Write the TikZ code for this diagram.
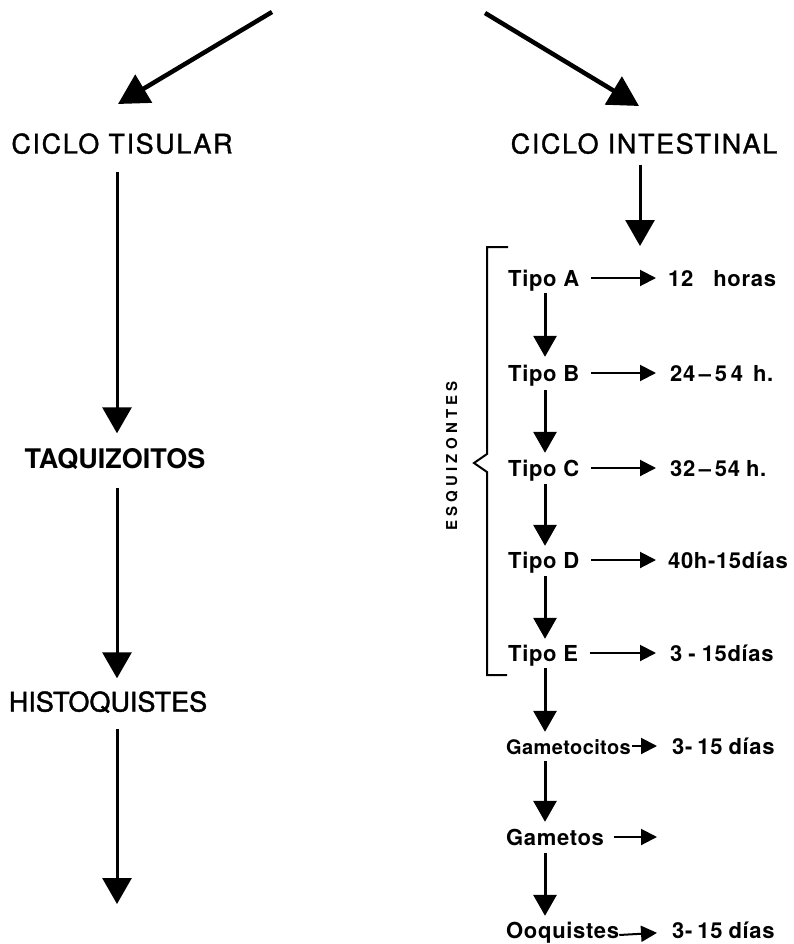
\documentclass[tikz,border=0pt]{standalone}
\usepackage{fontspec}
\setmainfont{TeX Gyre Heros}
\usetikzlibrary{arrows.meta}
\begin{document}
\begin{tikzpicture}[x=1pt,y=-1pt,
  bigtitle/.style={font=\fontsize{27}{27}\selectfont\addfontfeatures{LetterSpace=6,FakeBold=1.2}, inner sep=0pt, text height=19pt, text depth=0pt},
  lefttext/.style={font=\fontsize{27}{27}\selectfont\addfontfeatures{FakeBold=1.5}, inner sep=0pt, text height=19pt, text depth=0pt},
  smalltext/.style={font=\fontsize{22}{22}\selectfont\bfseries\addfontfeatures{LetterSpace=3}, inner sep=0pt, text height=16pt, text depth=0pt, anchor=west},
  bigarrow/.style={line width=3pt, -{Triangle[length=26pt,width=29pt]}},
  diagarrow/.style={line width=4.5pt, -{Triangle[length=30pt,width=32pt]}},
  varrow/.style={line width=3pt, -{Triangle[length=21pt,width=23pt]}},
  harrow/.style={line width=2pt, -{Triangle[length=16pt,width=16pt]}},
  bracepath/.style={line width=2pt}
]
\useasboundingbox (0,0) rectangle (793,944);

% ---------------- left column
\node[bigtitle] (ct) at (122,144) {CICLO TISULAR};
\node[lefttext,font=\fontsize{27}{27}\selectfont\bfseries] (taq) at (115,459) {TAQUIZOITOS};
\node[lefttext] (his) at (108,702) {HISTOQUISTES};
\coordinate (lt0) at (272,12);
\coordinate (lt1) at (118,104);
\coordinate (lcol) at (117,0);
\coordinate (lend) at (117,904);

\draw[diagarrow] (lt0) -- (lt1);
\draw[bigarrow, shorten <=18pt, shorten >=16pt] (ct.south -| lcol) -- (taq.north -| lcol);
\draw[bigarrow, shorten <=19pt, shorten >=14pt] (taq.south -| lcol) -- (his.north -| lcol);
\draw[bigarrow, shorten <=17pt] (his.south -| lcol) -- (lend);

% ---------------- right column
\node[bigtitle] (ci) at (644,144) {CICLO INTESTINAL};
\coordinate (rt0) at (485,13);
\coordinate (rt1) at (639,106);
\coordinate (rcol) at (640,0);
\coordinate (cend) at (640,246);
\draw[diagarrow] (rt0) -- (rt1);
\draw[bigarrow, shorten <=11pt] (ci.south -| rcol) -- (cend);

% stages
\node[smalltext] (ta) at (508,278) {Tipo A};
\node[smalltext] (tb) at (508,373) {Tipo B};
\node[smalltext] (tc) at (508,468) {Tipo C};
\node[smalltext] (td) at (508,560) {Tipo D};
\node[smalltext] (te) at (508,653) {Tipo E};
\node[smalltext,font=\fontsize{20}{20}\selectfont\bfseries\addfontfeatures{LetterSpace=2}] (gc) at (506,746) {Gametocitos};
\node[smalltext] (gm) at (506,837) {Gametos};
\node[smalltext] (oq) at (506,930) {Ooquistes};

% times
\node[smalltext] (ha) at (668,278) {12\hspace{20pt}horas};
\node[smalltext] (hb) at (670,373) {24\,--\,5\,4\hspace{10pt}h.};
\node[smalltext] (hc) at (670,468) {32\,--\,54\hspace{6pt}h.};
\node[smalltext] (hd) at (668,560) {40h-15días};
\node[smalltext] (he) at (670,653) {3\hspace{6pt}-\hspace{6pt}15días};
\node[smalltext] (hg) at (672,746) {3-\hspace{5pt}15\hspace{6pt}días};
\node[smalltext] (ho) at (672,930) {3-\hspace{5pt}15\hspace{6pt}días};
\coordinate (gend) at (657,837);

\coordinate (scol) at (545,0);
\draw[varrow, shorten <=7pt, shorten >=8pt] (ta.south -| scol) -- (tb.north -| scol);
\draw[varrow, shorten <=9pt, shorten >=7pt] (tb.south -| scol) -- (tc.north -| scol);
\draw[varrow, shorten <=8pt, shorten >=6pt] (tc.south -| scol) -- (td.north -| scol);
\draw[varrow, shorten <=8pt, shorten >=6pt] (td.south -| scol) -- (te.north -| scol);
\draw[varrow, shorten <=7pt, shorten >=6pt] (te.south -| scol) -- (gc.north -| scol);
\draw[varrow, shorten <=7pt, shorten >=7pt] (gc.south -| scol) -- (gm.north -| scol);
\draw[varrow, shorten <=8pt, shorten >=6pt] (gm.south -| scol) -- (oq.north -| scol);

\draw[harrow, shorten <=12pt, shorten >=12pt] (ta.east) -- (ha.west);
\draw[harrow, shorten <=12pt, shorten >=14pt] (tb.east) -- (hb.west);
\draw[harrow, shorten <=12pt, shorten >=14pt] (tc.east) -- (hc.west);
\draw[harrow, shorten <=12pt, shorten >=12pt] (td.east) -- (hd.west);
\draw[harrow, shorten <=12pt, shorten >=14pt] (te.east) -- (he.west);
\draw[harrow, shorten <=1pt, shorten >=15pt] (gc.east) -- (hg.west);
\draw[harrow, shorten <=10pt] (gm.east) -- (gend);
\draw[harrow, shorten >=15pt] ([yshift=-5pt]oq.east) -- ([yshift=-2pt]ho.west);

% brace
\coordinate (b1) at (508,247);
\coordinate (b2) at (487,247);
\coordinate (b3) at (487,454);
\coordinate (b4) at (474,463);
\coordinate (b5) at (487,472);
\coordinate (b6) at (487,675);
\coordinate (b7) at (507,675);
\draw[bracepath] (b1) -- (b2) -- (b3) -- (b4) -- (b5) -- (b6) -- (b7);
\node[font=\fontsize{15}{15}\selectfont\bfseries\addfontfeatures{LetterSpace=28}, rotate=90, inner sep=0pt] (esq) at (452,456) {ESQUIZONTES};

\end{tikzpicture}
\end{document}
